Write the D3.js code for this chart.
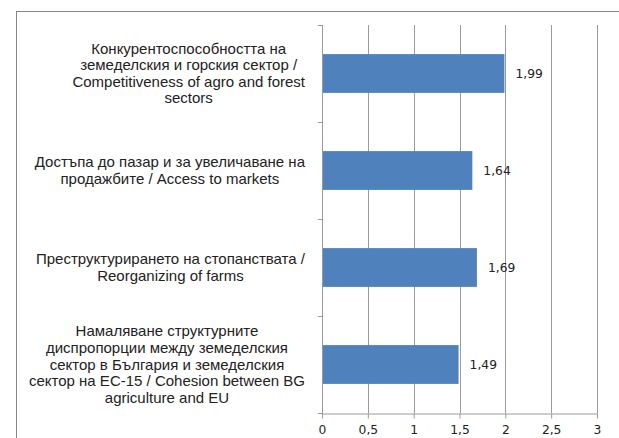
<!DOCTYPE html>
<html><head><meta charset="utf-8">
<script src="https://cdn.jsdelivr.net/npm/d3@7"></script>
<style>body{margin:0;background:#fff;}svg{display:block;}</style>
</head><body>
<svg id="c" width="619" height="438"></svg>
<script>
const categories = [
  ["Конкурентоспособността на", "земеделския и горския сектор /", "Competitiveness of agro and forest", "sectors"],
  ["Достъпа до пазар и за увеличаване на", "продажбите / Access to markets"],
  ["Преструктурирането на стопанствата /", "Reorganizing of farms"],
  ["Намаляване структурните", "диспропорции между земеделския", "сектор в България и земеделския", "сектор на ЕС-15 / Cohesion between BG", "agriculture and EU"]
];
const values = [1.99, 1.64, 1.69, 1.49];
const valueLabels = ["1,99", "1,64", "1,69", "1,49"];
const tickValues = [0, 0.5, 1, 1.5, 2, 2.5, 3];
const tickLabels = ["0", "0,5", "1", "1,5", "2", "2,5", "3"];

const svg = d3.select("#c");
// outer frame
svg.append("rect").attr("x", 16.5).attr("y", 11.5).attr("width", 640).attr("height", 460)
  .attr("fill", "#fff").attr("stroke", "#868686").attr("stroke-width", 1);

const L = 322, R = 597, T = 25, B = 413;
const x = d3.scaleLinear().domain([0, 3]).range([L, R]);
const y = d3.scaleBand().domain(d3.range(categories.length)).range([T, B]).paddingInner(0.6).paddingOuter(0.3);

// gridlines
svg.append("g").selectAll("line").data(tickValues.slice(1)).join("line")
  .attr("x1", d => Math.round(x(d)) + 0.5).attr("x2", d => Math.round(x(d)) + 0.5)
  .attr("y1", T).attr("y2", B).attr("stroke", "#9a9a9a").attr("stroke-width", 1);

// bars
svg.append("g").selectAll("rect").data(values).join("rect")
  .attr("x", x(0)).attr("y", (d, i) => y(i)).attr("width", d => x(d) - x(0))
  .attr("height", y.bandwidth()).attr("fill", "#4f81bd");

// value labels
svg.append("g").selectAll("text").data(values).join("text")
  .attr("x", d => x(d) + 11).attr("y", (d, i) => y(i) + y.bandwidth() / 2 + 4)
  .attr("font-family", "DejaVu Sans").attr("font-size", 12.3).attr("fill", "#222")
  .text((d, i) => valueLabels[i]);

// x axis
const xAxis = d3.axisBottom(x).tickValues(tickValues).tickFormat((d, i) => tickLabels[i]).tickSize(5).tickSizeOuter(0);
const gx = svg.append("g").attr("transform", `translate(0,${B + 0.5})`).call(xAxis);
gx.select(".domain").attr("stroke", "#9a9a9a");
gx.selectAll(".tick line").attr("stroke", "#9a9a9a");
gx.selectAll(".tick text").attr("font-family", "DejaVu Sans").attr("font-size", 12.3).attr("fill", "#222").attr("y", 12).attr("dy", "0.71em");

// y axis line and ticks at band boundaries
const bounds = d3.range(categories.length + 1).map(i => T + i * (B - T) / categories.length);
svg.append("line").attr("x1", L + 0.5).attr("x2", L + 0.5).attr("y1", T).attr("y2", B + 4).attr("stroke", "#9a9a9a");
svg.append("g").selectAll("line").data(bounds).join("line")
  .attr("x1", L - 4).attr("x2", L).attr("y1", d => Math.round(d) + 0.5).attr("y2", d => Math.round(d) + 0.5)
  .attr("stroke", "#9a9a9a");

// category labels
const lineH = 16.6;
const gl = svg.append("g").attr("font-family", "Liberation Sans").attr("font-size", 15).attr("fill", "#222");
categories.forEach((lines, i) => {
  const g = gl.append("g");
  const cy = y(i) + y.bandwidth() / 2;
  const texts = lines.map((t, k) => g.append("text").attr("text-anchor", "middle")
    .attr("y", cy + (k - (lines.length - 1) / 2) * lineH + 5).text(t));
  const maxW = d3.max(texts, t => t.node().getComputedTextLength());
  const cx = 305 - maxW / 2;
  texts.forEach(t => t.attr("x", cx));
});
</script>
</body></html>
